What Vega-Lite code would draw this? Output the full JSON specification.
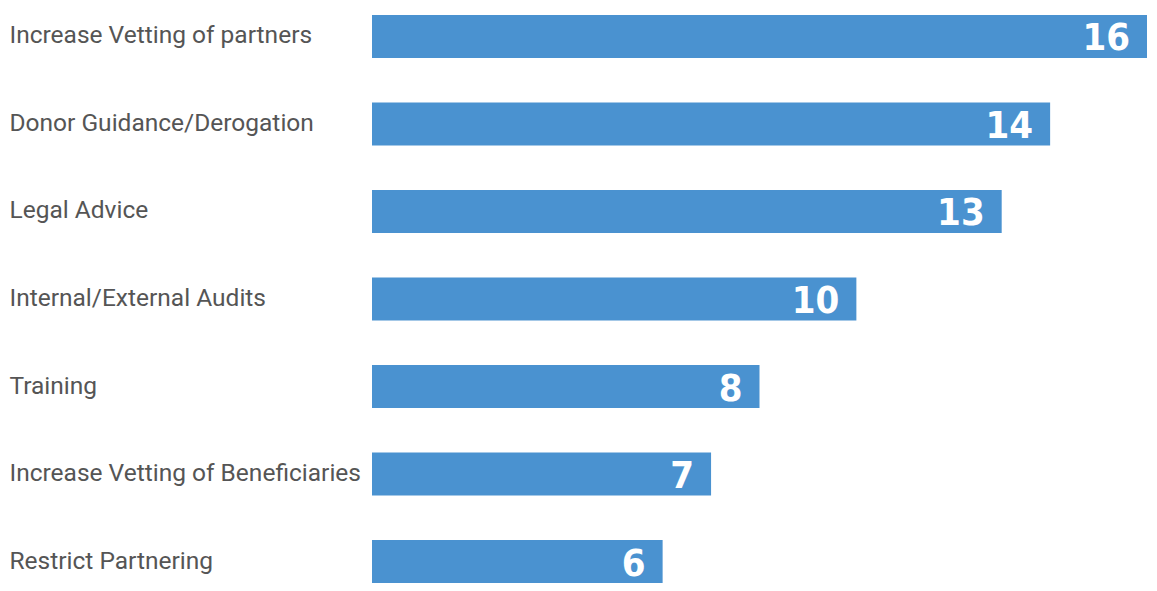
{
  "$schema": "https://vega.github.io/schema/vega-lite/v6.json",
  "autosize": "none",
  "width": 775,
  "height": 568,
  "padding": {"left": 372, "top": 15, "right": 10, "bottom": 8},
  "background": "white",
  "data": {"values": [
    {"category": "Increase Vetting of partners", "count": 16},
    {"category": "Donor Guidance/Derogation", "count": 14},
    {"category": "Legal Advice", "count": 13},
    {"category": "Internal/External Audits", "count": 10},
    {"category": "Training", "count": 8},
    {"category": "Increase Vetting of Beneficiaries", "count": 7},
    {"category": "Restrict Partnering", "count": 6}
  ]},
  "encoding": {
    "y": {"field": "category", "type": "nominal", "sort": null,
      "scale": {"paddingInner": 0.509, "paddingOuter": 0},
      "axis": {"title": null, "domain": false, "ticks": false, "labelAlign": "left", "labelPadding": 363,
        "labelFont": "Roboto", "labelFontSize": 24.5, "labelColor": "#555555", "labelLimit": 400}},
    "x": {"field": "count", "type": "quantitative", "scale": {"domain": [0, 16], "nice": false}, "axis": null}
  },
  "layer": [
    {"mark": {"type": "bar", "color": "#4A92D0"}},
    {"mark": {"type": "text", "align": "right", "baseline": "middle", "dx": -17, "dy": 3, "font": "DejaVu Sans Condensed, Roboto", "fontWeight": "bold", "fontSize": 38, "color": "white"},
      "encoding": {"text": {"field": "count", "type": "quantitative"}}}
  ],
  "config": {"view": {"stroke": null}}
}
